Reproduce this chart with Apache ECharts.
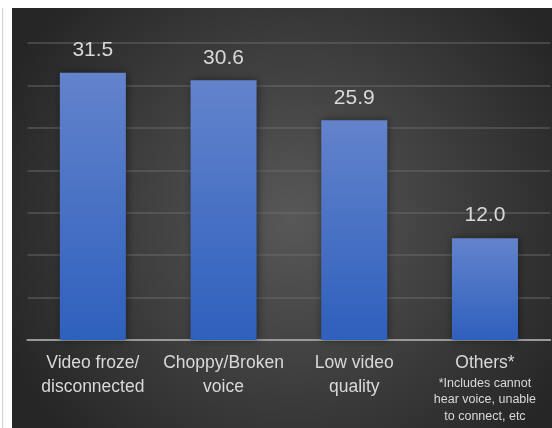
<!DOCTYPE html>
<html>
<head>
<meta charset="utf-8">
<script src="https://cdn.jsdelivr.net/npm/echarts@6/dist/echarts.min.js"></script>
<style>
html,body{margin:0;padding:0;background:#fff;}
#chart{width:552px;height:428px;}
</style>
</head>
<body>
<div id="chart"></div>
<script>
const categories = ['Video froze/\ndisconnected', 'Choppy/Broken\nvoice', 'Low video\nquality', 'Others*'];
const footnote = '*Includes cannot\nhear voice, unable\nto connect, etc';
const values = [31.5, 30.6, 25.9, 12.0];
const yMin = 0, yMax = 35, yInterval = 5;

const chart = echarts.init(document.getElementById('chart'));
const font = 'Liberation Sans, Arial, sans-serif';
chart.setOption({
  backgroundColor: '#ffffff',
  animation: false,
  graphic: [
    { type: 'rect', z: -10, shape: { x: 2, y: 8, width: 1.2, height: 420 }, style: { fill: '#d6d6d6' } },
    { type: 'rect', z: -10, shape: { x: 12, y: 8, width: 540, height: 420 },
      style: { fill: new echarts.graphic.RadialGradient(0.52, 0.5, 0.75, [
        { offset: 0, color: '#585858' },
        { offset: 1, color: '#262626' }
      ]) } }
  ],
  grid: { left: 27.5, right: 1.7, top: 43, bottom: 88 },
  xAxis: {
    type: 'category',
    data: categories,
    axisLine: { show: true, lineStyle: { color: '#9a9a9a', width: 2 } },
    axisTick: { show: false },
    axisLabel: {
      margin: 11,
      color: '#d9d9d9',
      fontFamily: font,
      fontSize: 17.5,
      lineHeight: 24,
      interval: 0,
      formatter: function (v) {
        if (v === 'Others*') return '{a|Others*}\n{b|' + footnote.split('\n').join('}\n{b|') + '}';
        return v;
      },
      rich: {
        a: { color: '#d9d9d9', fontFamily: font, fontSize: 17.5, lineHeight: 24 },
        b: { color: '#d9d9d9', fontFamily: font, fontSize: 12.5, lineHeight: 16.5 }
      }
    }
  },
  yAxis: {
    type: 'value',
    min: yMin, max: yMax, interval: yInterval,
    axisLabel: { show: false },
    axisLine: { show: false },
    axisTick: { show: false },
    splitLine: { show: true, lineStyle: { color: 'rgba(110,110,110,0.6)', width: 1.5 } }
  },
  series: [{
    type: 'bar',
    data: values,
    barWidth: 66,
    itemStyle: {
      color: new echarts.graphic.LinearGradient(0, 0, 0, 1, [
        { offset: 0, color: '#6383cc' },
        { offset: 1, color: '#2e60bd' }
      ]),
      shadowBlur: 8,
      shadowColor: 'rgba(0,0,0,0.45)',
      shadowOffsetX: 1
    },
    label: {
      show: true,
      position: 'top',
      distance: 12,
      color: '#d9d9d9',
      fontFamily: font,
      fontSize: 21,
      formatter: function (p) { return p.value.toFixed(1); }
    }
  }]
});
</script>
</body>
</html>
